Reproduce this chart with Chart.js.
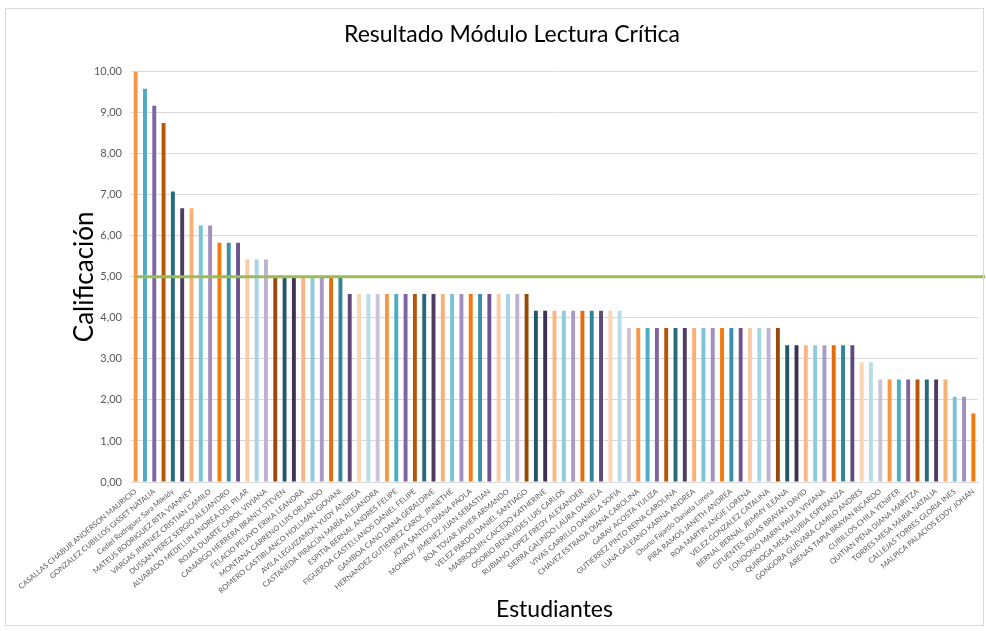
<!DOCTYPE html>
<html>
<head>
<meta charset="utf-8">
<script src="https://cdn.jsdelivr.net/npm/chart.js@4"></script>
<style>
  html,body{margin:0;padding:0;background:#fff;}
  #wrap{position:relative;width:986px;height:631px;}
  #frame{position:absolute;left:5px;top:8px;width:979px;height:618px;border:1px solid #D9D9D9;box-sizing:border-box;pointer-events:none;}
</style>
</head>
<body>
<div id="wrap">
  <canvas id="chart" width="986" height="631"></canvas>
  <div id="frame"></div>
</div>
<script>
// names readable under the axis (every second bar carries a label)
const shownNames = [
  'CASALLAS CHABUR ANDERSON MAURICIO','GONZALEZ CUBILLOS GISSET NATALIA','Cediel Rodriguez Sara Mileidy',
  'MATEUS RODRIGUEZ RITA VIANNEY','VARGAS JIMENEZ CRISTIAN CAMILO','DUSSAN PEREZ SERGIO ALEJANDRO',
  'ALVARADO MEDELLIN ANDREA DEL PILAR','ROJAS DUARTE CAROL VIVIANA','CAMARGO HERRERA BRANLY STEVEN',
  'FELACIO PELAYO ERIKA LEANDRA','MONTANA CARRENO LUIS ORLANDO','ROMERO CASTIBLANCO HOLLMAN GIOVANI',
  'AVILA LEGUIZAMON YUDY ANDREA','CASTAÑEDA PIRACÚN MARÍA ALEJANDRA','ESPITIA BERNAL ANDRES FELIPE',
  'FIGUEROA CASTELLANOS DANIEL FELIPE','GAMBOA CANO DANA GERALDINE','HERNANDEZ GUTIERREZ CAROL JINNETHE',
  'JOYA SANTOS DIANA PAOLA','MONROY JIMENEZ JUAN SEBASTIAN','ROA TOVAR JAVIER ARMANDO',
  'VELEZ PARDO DANIEL SANTIAGO','MARROQUIN CAICEDO KATHERINE','OSORIO BENAVIDES LUIS CARLOS',
  'RUBIANO LOPEZ FREDY ALEXANDER','SIERRA GALINDO LAURA DANIELA','VIVAS CARRILLO DANIELA SOFIA',
  'CHAVEZ ESTRADA DIANA CAROLINA','GARAY ACOSTA YULIZA','GUTIERREZ PINTO REINA CAROLINA',
  'LUNA GALEANO KARINA ANDREA','Osorio Fajardo Daniela Lorena','PIRA RAMOS JANETH ANDREA',
  'ROA MARTIN ANGIE LORENA','VELEZ GONZALEZ CATALINA','BERNAL BERNAL JEIMMY ILEANA',
  'CIFUENTES ROJAS BRAYAN DAVID','LONDONO MARIN PAULA VIVIANA','QUIROGA MESA NUBIA ESPERANZA',
  'GONGORA GUEVARA CAMILO ANDRES','ARENAS TAPIA BRAYAN RICARDO','CUBILLOS CHILA YENIFER',
  'QUITIAN PENA DIANA MARITZA','TORRES MESA MARIA NATALIA','CALLEJAS TORRES GLORIA INES',
  'MALPICA PALACIOS EDDY JOHAN'
];

const scores = [
  10.00, 9.58, 9.17, 8.75, 7.08, 6.67, 6.67, 6.25, 6.25, 5.83, 5.83, 5.83, 5.42, 5.42, 5.42,
  5.00, 5.00, 5.00, 5.00, 5.00, 5.00, 5.00, 5.00,
  4.58, 4.58, 4.58, 4.58, 4.58, 4.58, 4.58, 4.58, 4.58, 4.58,
  4.58, 4.58, 4.58, 4.58, 4.58, 4.58, 4.58, 4.58, 4.58, 4.58,
  4.17, 4.17, 4.17, 4.17, 4.17, 4.17, 4.17, 4.17, 4.17, 4.17,
  3.75, 3.75, 3.75, 3.75, 3.75, 3.75, 3.75, 3.75, 3.75, 3.75, 3.75, 3.75, 3.75, 3.75, 3.75, 3.75, 3.75,
  3.33, 3.33, 3.33, 3.33, 3.33, 3.33, 3.33, 3.33,
  2.92, 2.92,
  2.50, 2.50, 2.50, 2.50, 2.50, 2.50, 2.50, 2.50,
  2.08, 2.08,
  1.67
];

const yTicks = [0, 1, 2, 3, 4, 5, 6, 7, 8, 9, 10];
const PASS_MARK = 5;

// excel "vary colors by point": orange / blue / purple in 9 shades
const palette = [
  '#F79646','#4BACC6','#8064A2',
  '#B65708','#276A7C','#4D3B62',
  '#F9B074','#79C3D6','#A28FC0',
  '#F6790B','#3B8FA6','#6D5492',
  '#FBCBA3','#A5D5E2','#BDB1D4',
  '#984807','#215968','#3F3151',
  '#FAB583','#8ECBDB','#A89CC6',
  '#E46C0A','#31849B','#604A7B',
  '#FCD5B5','#B7DEE8','#CCC1DA'
];

const labels = scores.map((_, i) => i % 2 === 0 ? shownNames[i / 2] : '');
const colors = scores.map((_, i) => palette[i % palette.length]);

const FONT = 'Lato, "Liberation Sans", sans-serif';
const GREY = '#595959';

const passLine = {
  id: 'passLine',
  afterDatasetsDraw(chart) {
    const {ctx, chartArea, scales} = chart;
    const y = scales.y.getPixelForValue(PASS_MARK);
    ctx.save();
    ctx.strokeStyle = '#9BBB59';
    ctx.lineWidth = 3;
    ctx.beginPath();
    ctx.moveTo(chartArea.left + 5, y);
    ctx.lineTo(chartArea.right + 7, y);
    ctx.stroke();
    ctx.restore();
  }
};

new Chart(document.getElementById('chart'), {
  type: 'bar',
  data: {
    labels: labels,
    datasets: [{ data: scores, backgroundColor: colors, barPercentage: 0.42, categoryPercentage: 1 }]
  },
  options: {
    responsive: false,
    animation: false,
    layout: { padding: { left: 46, right: 8, top: 0, bottom: 0 } },
    plugins: {
      legend: { display: false },
      tooltip: { enabled: false },
      title: {
        display: true, text: 'Resultado Módulo Lectura Crítica', color: '#000',
        font: { family: FONT, size: 23, weight: 'normal' },
        padding: { top: 21, bottom: 23 }
      }
    },
    scales: {
      x: {
        grid: { display: false, drawTicks: false },
        border: { display: true, color: '#D9D9D9' },
        ticks: {
          autoSkip: false, minRotation: 40, maxRotation: 40, padding: 5,
          color: GREY, font: { family: FONT, size: 7.5 }
        },
        title: {
          display: true, text: 'Estudiantes', color: '#000',
          font: { family: FONT, size: 23 }, padding: { top: 0, bottom: 8 }
        },
        afterFit: s => { s.height = 149; }
      },
      y: {
        min: 0, max: 10,
        afterBuildTicks: s => { s.ticks = yTicks.map(v => ({ value: v })); },
        grid: { color: '#D9D9D9', drawTicks: false },
        border: { display: false },
        ticks: {
          padding: 9, color: GREY, font: { family: FONT, size: 11 },
          callback: v => v.toFixed(2).replace('.', ',')
        },
        title: {
          display: true, text: 'Calificación', color: '#000',
          font: { family: FONT, size: 26 }, padding: { top: 23, bottom: 0 }
        },
        afterFit: s => { s.width = 85; }
      }
    }
  },
  plugins: [passLine]
});
</script>
</body>
</html>
